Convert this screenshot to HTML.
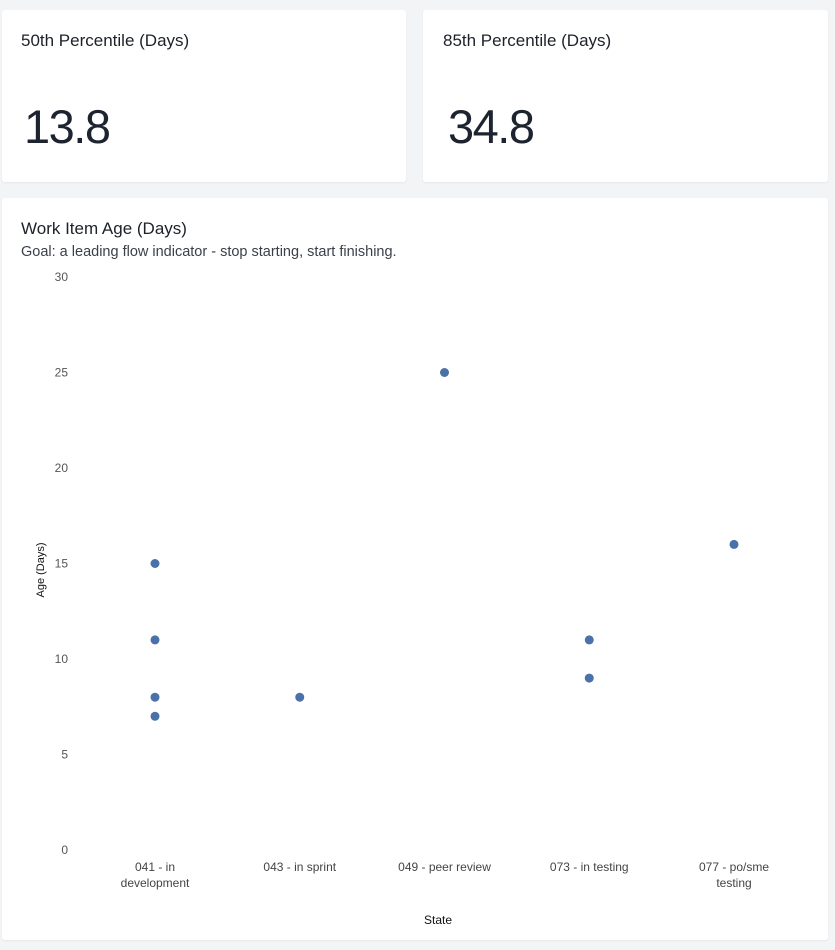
<!DOCTYPE html>
<html><head><meta charset="utf-8"><style>
body{margin:0;width:835px;height:950px;background:#f3f4f6;font-family:"Liberation Sans",sans-serif;color:#1f2430;position:relative;overflow:hidden}
.card{position:absolute;background:#fff;border-radius:3px;box-shadow:0 1px 2px rgba(0,0,0,.06)}
.t{position:absolute;font-size:17px;color:#1d2129}
.big{position:absolute;font-size:47px;letter-spacing:-1.5px;color:#1d2430}
</style></head><body>
<div class="card" style="left:2px;top:10px;width:404px;height:172px">
<div class="t" style="left:19px;top:21px">50th Percentile (Days)</div>
<div class="big" style="left:22px;top:89px">13.8</div></div>
<div class="card" style="left:423px;top:10px;width:405px;height:172px">
<div class="t" style="left:20px;top:21px">85th Percentile (Days)</div>
<div class="big" style="left:25px;top:89px">34.8</div></div>
<div class="card" style="left:2px;top:198px;width:826px;height:742px">
<div class="t" style="left:19px;top:21px">Work Item Age (Days)</div>
<div style="position:absolute;left:19px;top:46px;font-size:14.5px;color:#3a3f4a">Goal: a leading flow indicator - stop starting, start finishing.</div>
</div>
<svg id="chart" width="835" height="950" style="position:absolute;left:0;top:0" font-family="Liberation Sans, sans-serif"></svg>
<script>
const categories=["041 - in development","043 - in sprint","049 - peer review","073 - in testing","077 - po/sme testing"];
const catLabels=[["041 - in","development"],["043 - in sprint"],["049 - peer review"],["073 - in testing"],["077 - po/sme","testing"]];
const pointCats=[0,0,0,0,1,2,3,3,4];
const pointValues=[15,11,8,7,8,25,11,9,16];
const yTicks=[0,5,10,15,20,25,30];
const svg=document.getElementById('chart');const NS='http://www.w3.org/2000/svg';
const y=v=>850-(v/30)*573;
const x=i=>155+i*144.75;
function mk(t,a){const e=document.createElementNS(NS,t);for(const k in a)e.setAttribute(k,a[k]);svg.appendChild(e);return e;}
yTicks.forEach(v=>{const e=mk('text',{x:68,y:y(v)+4,'text-anchor':'end','font-size':12,fill:'#555'});e.textContent=v;

});
catLabels.forEach((ls,i)=>ls.forEach((l,j)=>{const e=mk('text',{x:x(i),y:871+j*16,'text-anchor':'middle','font-size':12,fill:'#444'});e.textContent=l;

}));
pointValues.forEach((v,k)=>{const c=mk('circle',{cx:x(pointCats[k]),cy:y(v),r:4.5,fill:'#4a72a8'});

});
let t=mk('text',{x:438,y:924,'text-anchor':'middle','font-size':12,fill:'#111'});t.textContent='State';


t=mk('text',{x:44,y:570,'text-anchor':'middle','font-size':11,fill:'#111',transform:'rotate(-90 44 570)'});t.textContent='Age (Days)';


</script>
</body></html>
